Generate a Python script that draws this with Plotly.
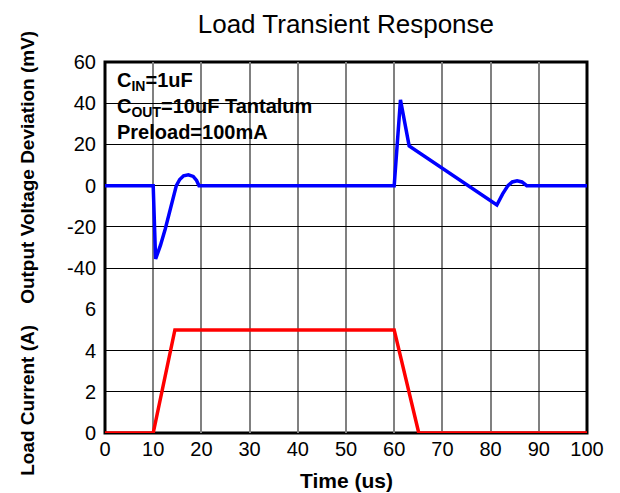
import plotly.graph_objects as go

# Output voltage deviation (mV) vs time (us)
v_time = [0, 10, 10.5, 11.5, 12.5, 13.5, 14.3, 14.8, 15.5, 16.3, 17.3, 18.3, 19.0, 19.5,
          60, 61.3, 63.1, 81.3, 82.5, 83.6, 84.5, 85.5, 86.5, 87.5, 100]
v_dev = [0, 0, -35.6, -29, -21, -12, -4, 0, 3, 4.8, 5.3, 4.5, 2.5, 0,
         0, 41.6, 19.3, -9.4, -4, 0, 1.8, 2.4, 1.8, 0, 0]

# Load current (A) vs time (us)
i_time = [0, 10, 14.5, 60, 65.1, 100]
i_load = [0, 0, 5, 5, 0, 0]

x_ticks = [0, 10, 20, 30, 40, 50, 60, 70, 80, 90, 100]
v_ticks = [-40, -20, 0, 20, 40, 60]
v_tick_labels = ["-40", "-20", "0", "20", "40", "60"]
i_ticks = [0, 2, 4, 6]

FONT = "Arial, Liberation Sans, sans-serif"

fig = go.Figure()
fig.add_trace(go.Scatter(x=v_time, y=v_dev, mode="lines", yaxis="y",
                         line=dict(color="#0000ff", width=3.5), showlegend=False))
fig.add_trace(go.Scatter(x=i_time, y=i_load, mode="lines", yaxis="y2",
                         line=dict(color="#ff0000", width=3.5), showlegend=False))

fig.update_layout(
    width=620, height=493,
    margin=dict(l=97, r=41, t=54, b=68),
    paper_bgcolor="white", plot_bgcolor="white",
    font=dict(family=FONT, color="black"),
    title=dict(text="Load Transient Response", x=0.545, xanchor="center",
               y=0.9675, yanchor="middle", font=dict(size=26, family=FONT)),
    xaxis=dict(range=[0, 100], tickvals=x_ticks, ticks="", showgrid=True, anchor="y2",
               gridcolor="#808080", gridwidth=1.5, zeroline=False,
               showline=False, tickfont=dict(size=20), ticklabelstandoff=2),
    yaxis=dict(domain=[1/3, 1], range=[-60, 60], tickvals=v_ticks,
               ticktext=v_tick_labels, ticks="",
               showgrid=True, gridcolor="black", gridwidth=1, zeroline=False,
               showline=False, tickfont=dict(size=20), ticklabelstandoff=8),
    yaxis2=dict(domain=[0, 1/3], range=[0, 6], tickvals=i_ticks, ticks="",
                anchor="x", showgrid=True, gridcolor="black", gridwidth=1,
                zeroline=False, showline=False, tickfont=dict(size=20),
                ticklabelstandoff=8),
    shapes=[dict(type="rect", xref="paper", yref="paper", x0=0, x1=1, y0=0, y1=1,
                 line=dict(color="black", width=3), layer="between")],
)

fig.add_annotation(text="<b>Output Voltage Deviation (mV)</b>", xref="paper", yref="paper",
                   x=-0.16, y=0.717, textangle=-90, showarrow=False,
                   font=dict(size=19), xanchor="center", yanchor="middle")
fig.add_annotation(text="<b>Load Current (A)</b>", xref="paper", yref="paper",
                   x=-0.16, y=0.089, textangle=-90, showarrow=False,
                   font=dict(size=19), xanchor="center", yanchor="middle")
fig.add_annotation(text="<b>Time (us)</b>", xref="paper", yref="paper",
                   x=0.5, y=-0.127, showarrow=False,
                   font=dict(size=21), xanchor="center", yanchor="middle")
fig.add_annotation(text="<b>C<sub>IN</sub>=1uF<br>C<sub>OUT</sub>=10uF Tantalum<br>Preload=100mA</b>",
                   xref="x", yref="y", x=2.0, y=57.5, xanchor="left", yanchor="top",
                   align="left", showarrow=False, font=dict(size=20))

fig.write_html("out.html")
